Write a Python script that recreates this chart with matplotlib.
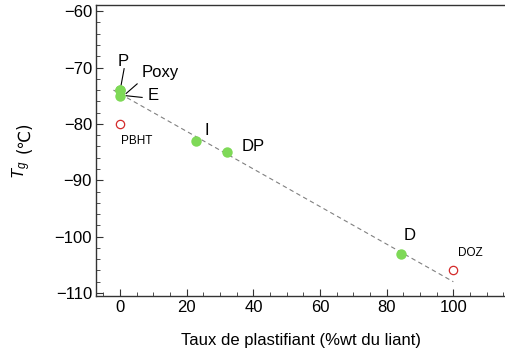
import matplotlib
matplotlib.use('Agg')
import matplotlib.pyplot as plt
from matplotlib.ticker import MultipleLocator

plt.rcParams['font.family'] = ['Liberation Sans', 'DejaVu Sans']
plt.rcParams['mathtext.fontset'] = 'custom'
plt.rcParams['mathtext.it'] = 'Liberation Sans:italic'
plt.rcParams['mathtext.rm'] = 'Liberation Sans'

# plastifiants (green) : taux (%wt du liant), Tg (C)
green_names = ['P', 'Poxy', 'E', 'I', 'DP', 'D']
green_x = [0, 0, 0, 22.7, 32, 84.4]
green_y = [-74, -74, -75, -83, -85, -103]

# open red points
red_names = ['PBHT', 'DOZ']
red_x = [0, 100]
red_y = [-80, -106]

# trend line (dashed)
fit_x = [-2, 100]
fit_y = [-74.0, -108.0]

fig = plt.figure(figsize=(5.06, 3.56), dpi=100)
ax = fig.add_axes([0.190, 0.169, 0.810, 0.817])

ax.plot(fit_x, fit_y, '--', color='#808080', lw=0.8, dashes=(4, 3), zorder=1)
ax.plot(green_x, green_y, 'o', color='#7ed957', markersize=7.5, mec='none', zorder=3)
ax.plot(red_x, red_y, 'o', mfc='white', mec='#d42a2a', markersize=6, mew=0.9, zorder=3)

fs = 12
# labels with leader lines
ax.text(0.9, -68.9, 'P', fontsize=fs, ha='center', va='center')
ax.plot([1.2, 0.2], [-70.2, -73.4], color='k', lw=0.8)
ax.text(12.0, -70.8, 'Poxy', fontsize=fs, ha='center', va='center')
ax.plot([5.1, 1.8], [-72.9, -74.6], color='k', lw=0.8)
ax.text(9.9, -75.0, 'E', fontsize=fs, ha='center', va='center')
ax.plot([1.8, 6.6], [-75.0, -75.3], color='k', lw=0.8)
ax.text(5.1, -83.0, 'PBHT', fontsize=8.5, ha='center', va='center')
ax.text(26.0, -81.1, 'I', fontsize=fs, ha='center', va='center')
ax.text(40.0, -84.0, 'DP', fontsize=fs, ha='center', va='center')
ax.text(87.0, -99.8, 'D', fontsize=fs, ha='center', va='center')
ax.text(105.0, -102.9, 'DOZ', fontsize=8.5, ha='center', va='center')

ax.set_xlim(-7.2, 115.8)
ax.set_ylim(-110.5, -58.9)

ax.xaxis.set_major_locator(MultipleLocator(20))
ax.xaxis.set_minor_locator(MultipleLocator(5))
ax.yaxis.set_major_locator(MultipleLocator(10))
ax.yaxis.set_minor_locator(MultipleLocator(2))

ax.spines['right'].set_visible(False)
for s in ['left', 'bottom', 'top']:
    ax.spines[s].set_color('#333333')
    ax.spines[s].set_linewidth(1.0)

ax.tick_params(which='major', direction='in', length=5, width=0.8, color='#333333',
               labelsize=fs, pad=3)
ax.tick_params(which='minor', direction='in', length=3, width=0.6, color='#333333')
ax.tick_params(top=False, right=False, which='both')

ax.set_yticks([-110, -100, -90, -80, -70, -60])
ax.set_yticklabels(['\u2212110', '\u2212100', '\u221290', '\u221280', '\u221270', '\u221260'])

ax.set_xlabel('Taux de plastifiant (%wt du liant)', fontsize=fs, labelpad=13)

# y label: italic T_g then (degC) in a font that has the glyph
fig.text(0.043, 0.522, '$T_g$', fontsize=fs, rotation=90, ha='center', va='center')
fig.text(0.049, 0.615, '(\u2103)', fontsize=fs, rotation=90, ha='center', va='center',
         family='DejaVu Sans')

fig.savefig('out.png', dpi=100)
